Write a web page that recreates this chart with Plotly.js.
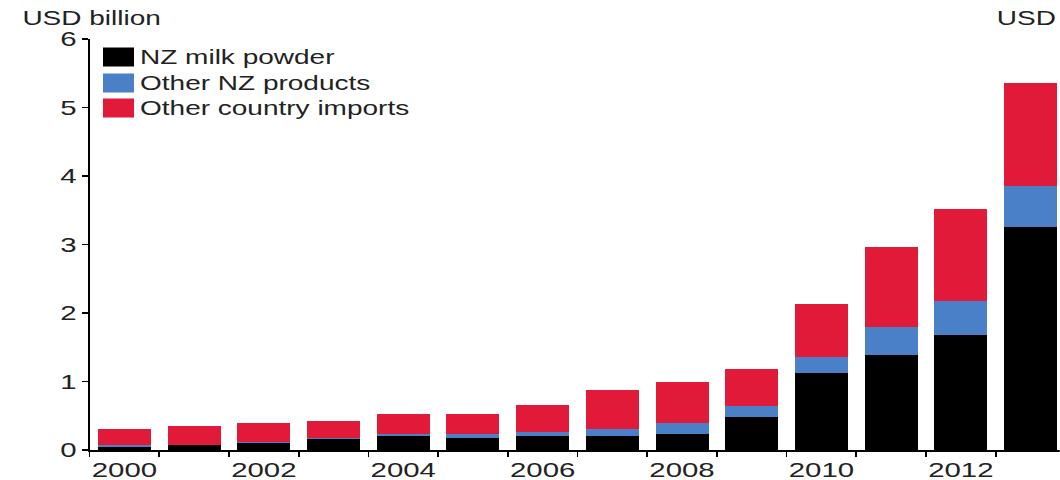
<!DOCTYPE html>
<html>
<head>
<meta charset="utf-8">
<script src="https://cdn.plot.ly/plotly-3.0.1.min.js"></script>
<style>
  html, body { margin: 0; padding: 0; background: #fff; }
  #wrap { width: 1060px; height: 480px; overflow: hidden; position: relative; }
  #chart { width: 757px; height: 480px; transform: scaleX(1.4); transform-origin: 0 0; }
</style>
</head>
<body>
<div id="wrap"><div id="chart"></div></div>
<script>
// ---- data ----
const years = [2000, 2001, 2002, 2003, 2004, 2005, 2006, 2007, 2008, 2009, 2010, 2011, 2012, 2013];
const nzMilkPowder = [0.05, 0.07, 0.10, 0.16, 0.20, 0.17, 0.20, 0.20, 0.24, 0.48, 1.12, 1.38, 1.68, 3.26];
const otherNZ      = [0.02, 0.01, 0.02, 0.02, 0.03, 0.06, 0.07, 0.11, 0.15, 0.16, 0.24, 0.42, 0.49, 0.59];
const otherCountry = [0.23, 0.27, 0.28, 0.24, 0.30, 0.29, 0.38, 0.56, 0.60, 0.54, 0.77, 1.16, 1.35, 1.51];
const seriesNames = ['NZ milk powder', 'Other NZ products', 'Other country imports'];
const xTickVals = [2000, 2002, 2004, 2006, 2008, 2010, 2012];
const xTickText = ['2000', '2002', '2004', '2006', '2008', '2010', '2012'];
const yTickVals = [0, 1, 2, 3, 4, 5, 6];
const yTickText = ['0', '1', '2', '3', '4', '5', '6'];
const leftUnit = 'USD billion';
const rightUnit = 'USD';

// ---- style / layout constants ----
const colors = ['#000000', '#4a80c8', '#e01a38'];
const S = 1.4;             // horizontal stretch of the picture
const W = 757, H = 480;
const M = { l: 64, r: 0, t: 39, b: 30 };
const plotW = W - M.l - M.r, plotH = H - M.t - M.b;
const font = 'Liberation Sans, Arial, Helvetica, sans-serif';
const txt = '#222222';

// outer pixel -> paper coords
const px = x => (x / S - M.l) / plotW;
const py = y => (H - M.b - y) / plotH;

// year boundaries for the small x ticks between bars
const boundaries = years.map(y => y - 0.5).concat([years[years.length - 1] + 0.5]);

const vals = [nzMilkPowder, otherNZ, otherCountry];
const traces = vals.map((v, i) => ({
  type: 'bar',
  x: years,
  y: v,
  name: seriesNames[i],
  width: 0.76,
  marker: { color: colors[i], line: { width: 0 } },
  showlegend: false,
  hoverinfo: 'skip'
}));

// custom legend
const legRows = [57, 83, 108];
const shapes = [];
const annotations = [];
seriesNames.forEach((n, i) => {
  shapes.push({
    type: 'rect', xref: 'paper', yref: 'paper',
    x0: px(103), x1: px(134), y0: py(legRows[i] - 9.5), y1: py(legRows[i] + 9.5),
    fillcolor: colors[i], line: { width: 0 }
  });
  annotations.push({
    xref: 'paper', yref: 'paper', x: px(137), y: py(legRows[i]),
    xanchor: 'left', yanchor: 'middle', showarrow: false,
    text: n, font: { family: font, size: 20, color: txt }
  });
});
annotations.push({
  xref: 'paper', yref: 'paper', x: px(19), y: py(18),
  xanchor: 'left', yanchor: 'middle', showarrow: false,
  text: leftUnit, font: { family: font, size: 20, color: txt }
});
annotations.push({
  xref: 'paper', yref: 'paper', x: px(994), y: py(18),
  xanchor: 'left', yanchor: 'middle', showarrow: false,
  text: rightUnit, font: { family: font, size: 20, color: txt }
});

const layout = {
  width: W, height: H,
  margin: M,
  paper_bgcolor: '#fff', plot_bgcolor: '#fff',
  barmode: 'stack',
  bargap: 0,
  font: { family: font, size: 21, color: txt },
  xaxis: {
    range: [1999.5, 2013.42],
    tickmode: 'array', tickvals: xTickVals, ticktext: xTickText,
    ticks: 'outside', ticklen: 0.01, tickcolor: '#000',
    minor: { tickmode: 'array', tickvals: boundaries, ticks: 'outside', ticklen: 5, tickwidth: 1.2, tickcolor: '#000', showgrid: false },
    showline: true, linecolor: '#000', linewidth: 2,
    showgrid: false, zeroline: false,
    tickfont: { family: font, size: 21, color: txt },
    fixedrange: true
  },
  yaxis: {
    range: [0, 6],
    tickmode: 'array', tickvals: yTickVals, ticktext: yTickText,
    ticks: 'outside', ticklen: 3.6, tickwidth: 1.5, tickcolor: '#000',
    showline: true, linecolor: '#000', linewidth: 1.5,
    showgrid: false, zeroline: false,
    tickfont: { family: font, size: 21, color: txt },
    fixedrange: true
  },
  shapes: shapes,
  annotations: annotations
};

Plotly.newPlot('chart', traces, layout, { staticPlot: true, displayModeBar: false });
</script>
</body>
</html>
